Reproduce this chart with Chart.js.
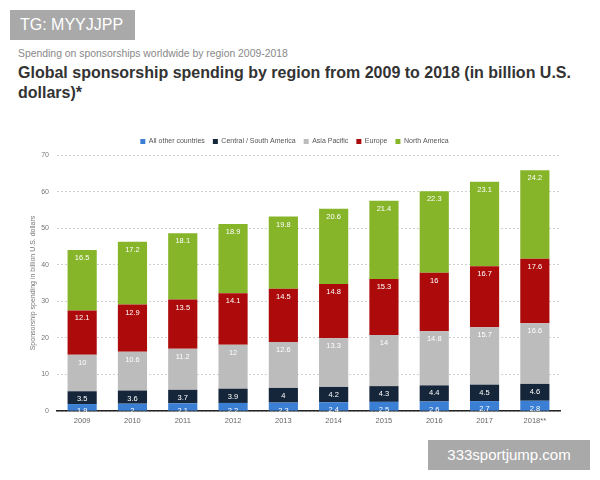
<!DOCTYPE html>
<html>
<head>
<meta charset="utf-8">
<script src="https://cdn.jsdelivr.net/npm/chart.js@4"></script>
<style>
  body { margin: 0; width: 600px; height: 480px; background: #fff; font-family: "Liberation Sans", Arial, sans-serif; position: relative; overflow: hidden; }
  .tag { position: absolute; background: #a9a9a9; color: #fff; }
  #tg { left: 10px; top: 10px; width: 125px; height: 30px; line-height: 30px; font-size: 16px; padding-left: 10px; box-sizing: border-box; }
  #site { left: 428px; top: 440px; width: 162px; height: 30px; line-height: 30px; font-size: 15px; text-align: center; }
  #sub { position: absolute; left: 18px; top: 48px; font-size: 10.4px; color: #888; }
  #title { position: absolute; left: 18px; top: 63px; width: 570px; font-size: 16px; font-weight: bold; color: #333; line-height: 20px; }
  #wrap { position: absolute; left: 0; top: 125px; width: 600px; height: 305px; }
</style>
</head>
<body>
<div id="tg" class="tag">TG: MYYJJPP</div>
<div id="sub">Spending on sponsorships worldwide by region 2009-2018</div>
<div id="title">Global sponsorship spending by region from 2009 to 2018 (in billion U.S. dollars)*</div>
<div id="wrap"><canvas id="grafico"></canvas></div>
<div id="site" class="tag">333sportjump.com</div>
<script>
// Dados
const anos = ['2009', '2010', '2011', '2012', '2013', '2014', '2015', '2016', '2017', '2018**'];
const outros = [1.9, 2, 2.1, 2.2, 2.3, 2.4, 2.5, 2.6, 2.7, 2.8];
const americaCentralSul = [3.5, 3.6, 3.7, 3.9, 4, 4.2, 4.3, 4.4, 4.5, 4.6];
const asiaPacifico = [10, 10.6, 11.2, 12, 12.6, 13.3, 14, 14.8, 15.7, 16.6];
const europa = [12.1, 12.9, 13.5, 14.1, 14.5, 14.8, 15.3, 16, 16.7, 17.6];
const americaNorte = [16.5, 17.2, 18.1, 18.9, 19.8, 20.6, 21.4, 22.3, 23.1, 24.2];
const ticksY = [0, 10, 20, 30, 40, 50, 60, 70];

const fonte = '"Liberation Sans", Arial, sans-serif';

// Rótulos brancos perto do topo de cada segmento
const rotulos = {
  id: 'rotulos',
  afterDatasetsDraw(chart) {
    const ctx = chart.ctx;
    ctx.save();
    ctx.font = '7.5px ' + fonte;
    ctx.fillStyle = '#fff';
    ctx.textAlign = 'center';
    ctx.textBaseline = 'middle';
    chart.data.datasets.forEach((ds, i) => {
      chart.getDatasetMeta(i).data.forEach((bar, j) => {
        const topo = Math.min(bar.y, bar.base);
        ctx.fillText(String(ds.data[j]), bar.x, Math.min(topo + 8, bar.base));
      });
    });
    ctx.restore();
  }
};

const serie = (label, data, cor) => ({
  label, data, backgroundColor: cor, borderWidth: 0,
  barPercentage: 0.58, categoryPercentage: 1
});

new Chart(document.getElementById('grafico'), {
  type: 'bar',
  data: {
    labels: anos,
    datasets: [
      serie('All other countries', outros, '#3b7fd4'),
      serie('Central / South America', americaCentralSul, '#15263a'),
      serie('Asia Pacific', asiaPacifico, '#bcbcbc'),
      serie('Europe', europa, '#ad0b0b'),
      serie('North America', americaNorte, '#86b52a')
    ]
  },
  options: {
    responsive: true,
    maintainAspectRatio: false,
    animation: false,
    layout: { padding: { left: 29, right: 40, top: 5, bottom: 0 } },
    plugins: {
      legend: {
        display: true,
        labels: { boxWidth: 5, boxHeight: 5, font: { size: 7, family: fonte }, color: '#555', padding: 8 }
      },
      tooltip: { enabled: false }
    },
    scales: {
      x: {
        stacked: true,
        grid: { display: false, drawTicks: false },
        border: { color: '#222', width: 1.5 },
        ticks: { font: { size: 7.5, family: fonte }, color: '#666', padding: 5 },
        afterFit: s => { s.height = 19; }
      },
      y: {
        stacked: true,
        min: 0, max: 70,
        afterBuildTicks: s => { s.ticks = ticksY.map(v => ({ value: v })); },
        grid: { color: '#c4c4c4', drawTicks: false, lineWidth: 0.8 },
        border: { display: false, dash: [2, 2] },
        ticks: { font: { size: 7, family: fonte }, color: '#777', padding: 8 },
        title: { display: true, text: 'Sponsorship spending in billion U.S. dollars', font: { size: 7, family: fonte }, color: '#777', padding: 0 },
        afterFit: s => { s.width = 28; }
      }
    }
  },
  plugins: [rotulos]
});
</script>
</body>
</html>
